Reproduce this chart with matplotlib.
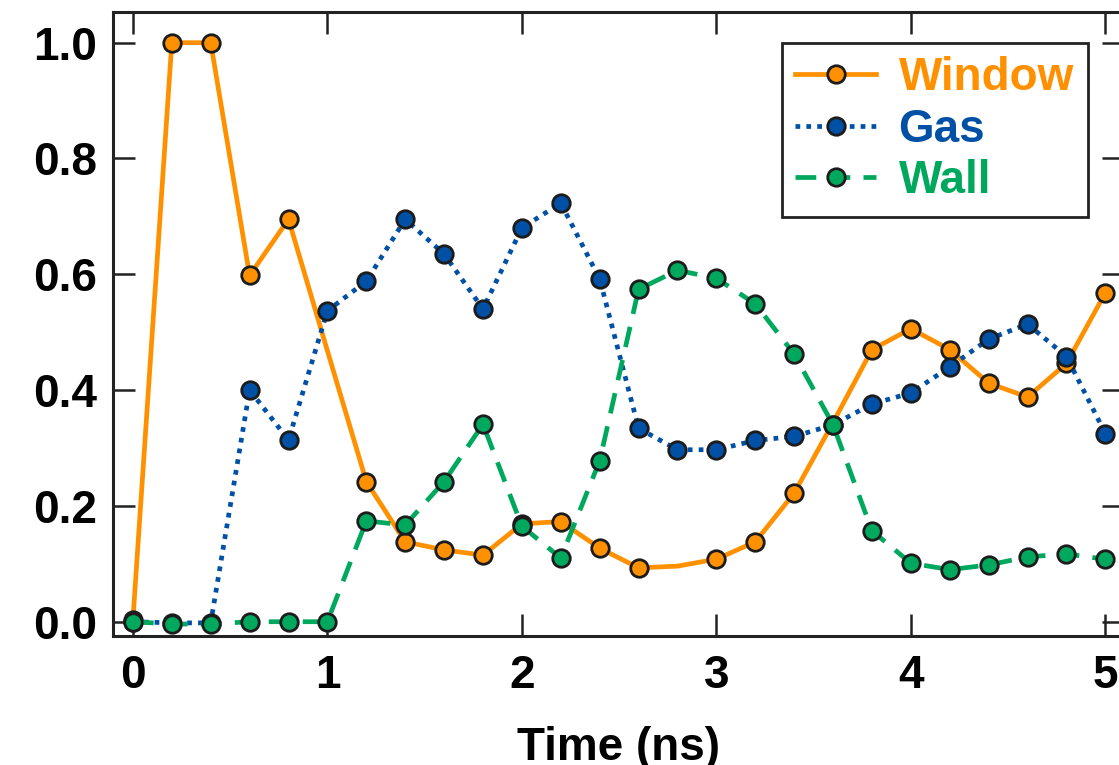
import matplotlib
matplotlib.use("Agg")
import matplotlib.pyplot as plt

plt.rcParams['font.family'] = ['Liberation Sans', 'DejaVu Sans']
plt.rcParams['font.weight'] = 'bold'

# time axis, one sample every 0.2 ns
time_ns = [0.0, 0.2, 0.4, 0.6, 0.8, 1.0, 1.2, 1.4, 1.6, 1.8, 2.0, 2.2, 2.4,
           2.6, 2.8, 3.0, 3.2, 3.4, 3.6, 3.8, 4.0, 4.2, 4.4, 4.6, 4.8, 5.0]

window = [0.003, 1.0, 1.0, 0.598, 0.695, 0.468, 0.242, 0.138, 0.124, 0.115,
          0.169, 0.173, 0.127, 0.093, 0.096, 0.108, 0.138, 0.222, 0.344,
          0.470, 0.506, 0.470, 0.412, 0.388, 0.446, 0.568]
gas = [0.0, -0.002, -0.002, 0.400, 0.314, 0.537, 0.588, 0.695, 0.635, 0.540,
       0.680, 0.723, 0.592, 0.334, 0.297, 0.297, 0.313, 0.320, 0.340, 0.376,
       0.395, 0.440, 0.488, 0.514, 0.458, 0.325]
wall = [0.0, -0.004, -0.004, 0.0, 0.0, 0.0, 0.174, 0.167, 0.242, 0.341,
        0.165, 0.110, 0.278, 0.574, 0.607, 0.593, 0.549, 0.462, 0.340, 0.157,
        0.101, 0.090, 0.098, 0.112, 0.117, 0.108]

# window samples at 1.0, 2.8 and 3.6 ns carry no marker
window_marked = [i for i in range(len(time_ns)) if i not in (5, 14, 18)]

ORANGE = '#FF9100'
BLUE = '#0050A5'
GREEN = '#00A85E'
EDGE = '#1c1c1c'

fig = plt.figure(figsize=(11.19, 7.65), dpi=100)
ax = fig.add_axes([0.1007, 0.1686, 0.9038, 0.8161])

mk = dict(marker='o', markersize=12.6, markeredgewidth=2.0, markeredgecolor=EDGE)
ax.plot(time_ns, window, color=ORANGE, lw=3.4, ls='-', markerfacecolor=ORANGE,
        markevery=window_marked, label='Window', zorder=3, **mk)
ax.plot(time_ns, gas, color=BLUE, lw=3.4, ls=(0, (1.0, 1.3)), dash_capstyle='butt',
        markerfacecolor=BLUE, label='Gas', zorder=4, **mk)
ax.plot(time_ns, wall, color=GREEN, lw=3.4, ls=(0, (4.4, 2.8)), dash_capstyle='butt',
        markerfacecolor=GREEN, label='Wall', zorder=5, **mk)

ax.set_xlim(-0.104, 5.096)
ax.set_ylim(-0.0247, 1.0535)
ax.set_xticks([0, 1, 2, 3, 4, 5])
ax.set_yticks([0.0, 0.2, 0.4, 0.6, 0.8, 1.0])
ax.set_yticklabels(['0.0', '0.2', '0.4', '0.6', '0.8', '1.0'])

for side in ax.spines.values():
    side.set_linewidth(2.2)
    side.set_color('#222222')
ax.tick_params(axis='both', which='major', direction='in', length=16, width=1.8,
               color='#222222', labelsize=33, top=True, right=True)
ax.tick_params(axis='x', pad=13)
ax.tick_params(axis='y', pad=11)
for lab in ax.get_xticklabels() + ax.get_yticklabels():
    lab.set_fontweight('bold')

ax.set_xlabel('Time (ns)', fontsize=33, fontweight='bold', labelpad=20)

leg = ax.legend(loc='upper left', bbox_to_anchor=(0.6615, 0.9503), borderaxespad=0,
                fontsize=33, frameon=True, fancybox=False, framealpha=1,
                edgecolor='#222222', handlelength=1.75, handletextpad=0.5,
                labelspacing=0.16, borderpad=0.3, numpoints=1)
leg.get_frame().set_linewidth(2.0)
for txt, col in zip(leg.get_texts(), [ORANGE, BLUE, GREEN]):
    txt.set_color(col)
    txt.set_fontweight('bold')

fig.savefig('out.png', dpi=100)
